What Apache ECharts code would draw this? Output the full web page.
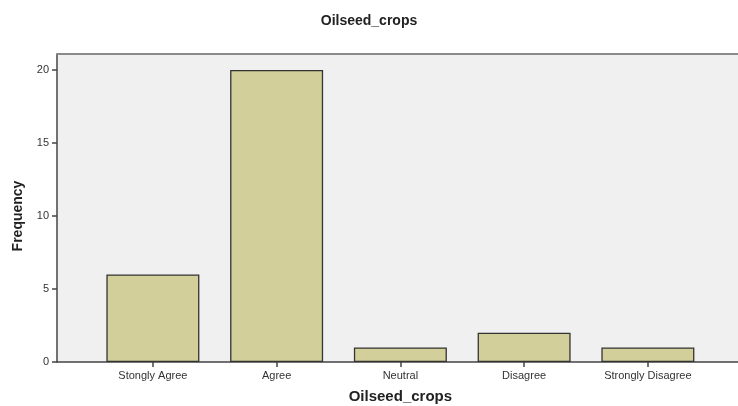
<!DOCTYPE html>
<html>
<head>
<meta charset="utf-8">
<script src="https://cdn.jsdelivr.net/npm/echarts@6/dist/echarts.min.js"></script>
<style>html,body{margin:0;padding:0;background:#fff;}#c{width:738px;height:406px;}</style>
</head>
<body>
<div id="c"></div>
<script>
const categories = ['Stongly Agree', 'Agree', 'Neutral', 'Disagree', 'Strongly Disagree'];
const frequency = [6, 20, 1, 2, 1];
const yTicks = [0, 5, 10, 15, 20];
const titleText = 'Oilseed_crops';
const xName = 'Oilseed_crops';
const yName = 'Frequency';

const chart = echarts.init(document.getElementById('c'), null, {renderer: 'canvas'});
const FONT = 'Liberation Sans, Arial, sans-serif';
chart.setOption({
  animation: false,
  title: {
    text: titleText, left: 'center', top: 9,
    textStyle: {fontFamily: FONT, fontSize: 14, fontWeight: 'bold', color: '#222'}
  },
  grid: [
    {left: 57, top: 54, right: -30, bottom: 44, show: true, backgroundColor: '#f0f0f0', borderWidth: 0,
     containLabel: false, outerBoundsMode: 'none'},
    {left: 91, top: 70, width: 618.75, bottom: 44, show: false,
     containLabel: false, outerBoundsMode: 'none'}
  ],
  xAxis: [
    {type: 'value', gridIndex: 0, position: 'bottom', min: 0, max: 1,
     axisLine: {show: true, onZero: false, lineStyle: {color: '#444', width: 1.5}},
     axisTick: {show: false}, axisLabel: {show: false}, splitLine: {show: false}},
    {type: 'value', gridIndex: 0, position: 'top', min: 0, max: 1,
     axisLine: {show: true, onZero: false, lineStyle: {color: '#8a8a8a', width: 2}},
     axisTick: {show: false}, axisLabel: {show: false}, splitLine: {show: false}},
    {type: 'category', gridIndex: 1, data: categories, position: 'bottom',
     axisLine: {show: false, onZero: false},
     axisTick: {show: true, alignWithLabel: true, length: 5, lineStyle: {color: '#444', width: 1.5}},
     axisLabel: {fontFamily: FONT, fontSize: 11, color: '#333', margin: 8, interval: 0},
     name: xName, nameLocation: 'middle', nameGap: 27,
     nameTextStyle: {fontFamily: FONT, fontSize: 15, fontWeight: 'bold', color: '#222'}}
  ],
  yAxis: [
    {type: 'value', gridIndex: 0, position: 'left', min: 0, max: 1,
     axisLine: {show: true, onZero: false, lineStyle: {color: '#444', width: 1.5}},
     axisTick: {show: false}, axisLabel: {show: false}, splitLine: {show: false}},
    {type: 'value', gridIndex: 1, position: 'left', offset: 34, min: 0, max: 20, interval: 5,
     axisLine: {show: false, onZero: false},
     axisTick: {show: true, length: 5, lineStyle: {color: '#444', width: 1.5}},
     axisLabel: {fontFamily: FONT, fontSize: 11, color: '#333', margin: 8,
       customValues: yTicks},
     splitLine: {show: false},
     name: yName, nameLocation: 'middle', nameGap: 32, nameRotate: 90,
     nameTextStyle: {fontFamily: FONT, fontSize: 14, fontWeight: 'bold', color: '#222'}}
  ],
  series: [{
    type: 'bar', xAxisIndex: 2, yAxisIndex: 1, data: frequency, barWidth: 93,
    itemStyle: {color: '#d3cf9a', borderColor: '#333', borderWidth: 1.3}
  }]
});
</script>
</body>
</html>
